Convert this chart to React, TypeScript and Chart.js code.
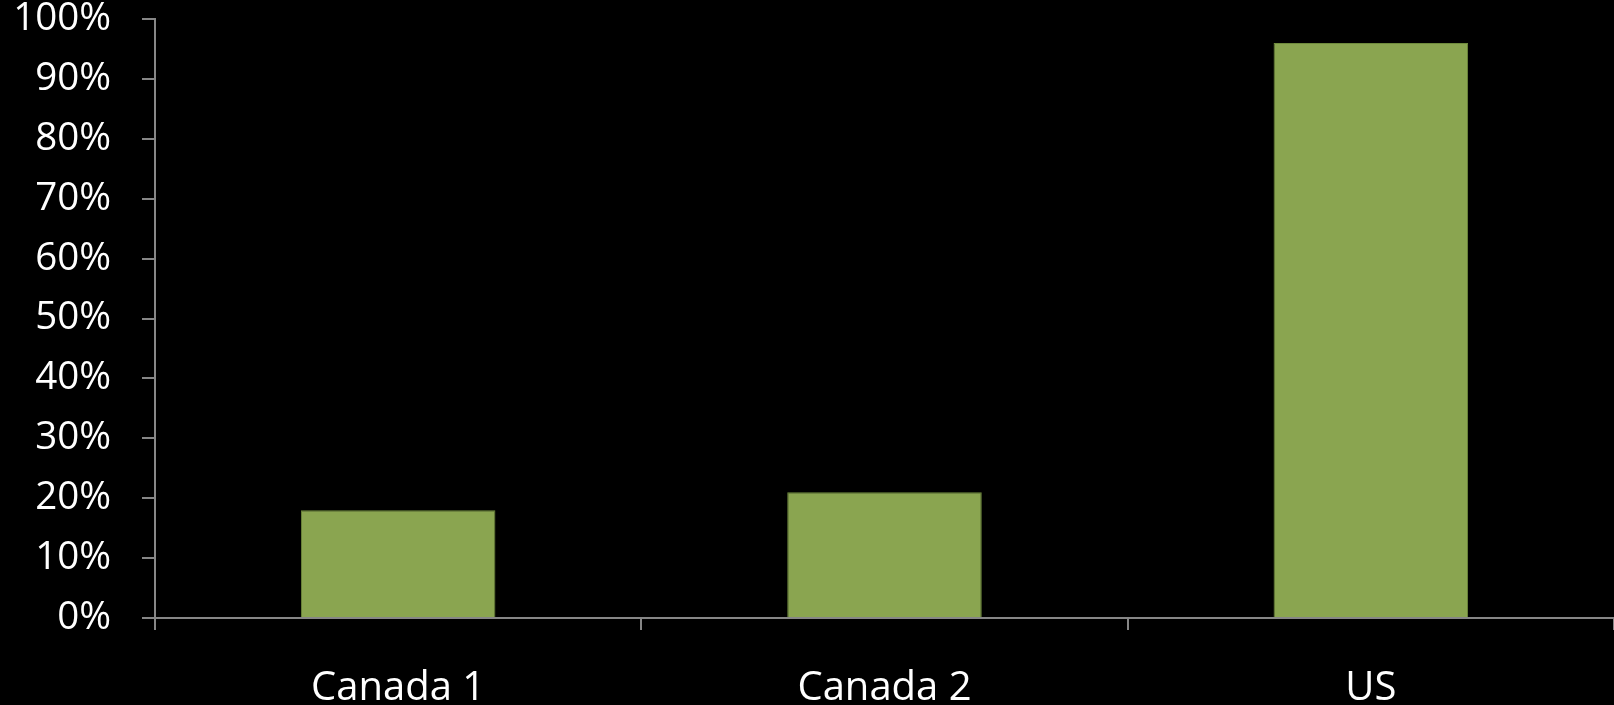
import React, { useEffect, useRef } from "react";
import { Chart, registerables } from "chart.js";

Chart.register(...registerables);

const categories = ["Canada 1", "Canada 2", "US"];
const shareValues = [18, 21, 96];
const yTickStep = 10;
const yMax = 100;

export default function App() {
  const ref = useRef<HTMLCanvasElement | null>(null);

  useEffect(() => {
    document.body.style.margin = "0";
    document.body.style.background = "#000";
    const canvas = ref.current;
    if (!canvas) return;
    const chart = new Chart(canvas, {
      type: "bar",
      data: {
        labels: categories,
        datasets: [
          {
            data: shareValues,
            backgroundColor: "#8aa550",
            borderColor: "#6e8a3c",
            borderWidth: 1,
            barPercentage: 0.4,
            categoryPercentage: 1,
          },
        ],
      },
      options: {
        animation: false,
        responsive: false,
        maintainAspectRatio: false,
        layout: { padding: { top: 0, right: 0, left: 0, bottom: 0 } },
        plugins: {
          legend: { display: false },
          tooltip: { enabled: false },
        },
        scales: {
          x: {
            grid: {
              display: true,
              drawOnChartArea: false,
              drawTicks: true,
              tickLength: 12,
              color: "#868686",
              lineWidth: 2,
            },
            border: { display: true, color: "#868686", width: 2 },
            ticks: {
              color: "#ffffff",
              padding: 37,
              font: { family: "'Open Sans', sans-serif", size: 40, lineHeight: 1.1 },
              maxRotation: 0,
            },
            afterFit: (s: any) => {
              s.height = 87;
              s.paddingLeft = 0;
              s.paddingRight = 0;
            },
          },
          y: {
            min: 0,
            max: yMax,
            grid: {
              display: true,
              drawOnChartArea: false,
              drawTicks: true,
              tickLength: 13,
              color: "#868686",
              lineWidth: 2,
            },
            border: { display: true, color: "#868686", width: 2 },
            ticks: {
              stepSize: yTickStep,
              color: "#ffffff",
              padding: 31,
              font: { family: "'Open Sans', sans-serif", size: 38.5, lineHeight: 1.0 },
              callback: (v: any) => v + "%",
            },
            afterFit: (s: any) => {
              s.width = 155;
              s.paddingTop = 19;
              s.paddingBottom = 0;
            },
          },
        },
      },
    });
    return () => chart.destroy();
  }, []);

  return (
    <div style={{ position: "absolute", left: 0, top: 0, width: 1614, height: 705, background: "#000" }}>
      <canvas ref={ref} width={1614} height={705} style={{ display: "block" }} />
    </div>
  );
}
